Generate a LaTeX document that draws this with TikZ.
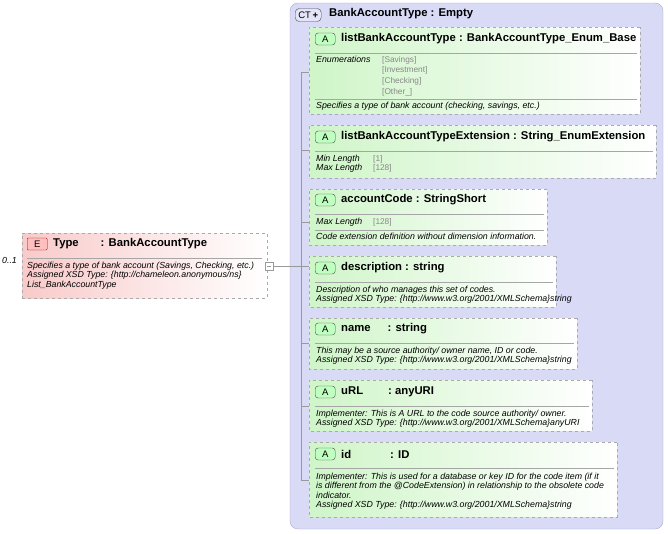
\documentclass[tikz,border=0pt]{standalone}
\usepackage{fontspec}
\setmainfont{Liberation Sans}
\usetikzlibrary{shapes.misc}
\definecolor{ctfill}{HTML}{D8DAF6}
\definecolor{ctline}{HTML}{A9A9C8}
\definecolor{bord}{HTML}{AAAAAA}
\definecolor{grn}{HTML}{CFF5C8}
\definecolor{pinkf}{HTML}{F9CACA}
\definecolor{gtext}{HTML}{888888}
\tikzset{
 abox/.style={chamfered rectangle, chamfered rectangle xsep=4pt, chamfered rectangle ysep=4pt, draw=bord, dashed, left color=grn, right color=white, anchor=north west, inner sep=0pt},
 ttl/.style={anchor=west, font=\fontsize{11.3}{12}\selectfont\bfseries, inner sep=0pt},
 sm/.style={anchor=north west, font=\fontsize{8.8}{9.4}\selectfont\itshape, inner sep=0pt, align=left},
 gr/.style={anchor=north west, font=\fontsize{8.3}{10.7}\selectfont, text=gtext, inner sep=0pt, align=left},
 abadge/.style={rounded corners=3pt, draw=black!70, fill=green!25, minimum width=20pt, minimum height=12pt, inner sep=0pt, font=\fontsize{9.5}{10}\selectfont, anchor=west},
 sep/.style={draw=gray!70},
 conn/.style={draw=gray!80},
}
\begin{document}
\begin{tikzpicture}[x=1pt,y=-1pt]
\useasboundingbox (0,0) rectangle (668,533);
% CT box
\draw[draw=ctline, fill=ctfill, rounded corners=8pt] (290,3) rectangle (663,529);
\node[rounded corners=4pt, draw=black!70, fill=ctfill!70, minimum width=26pt, minimum height=13pt, inner sep=0pt, font=\fontsize{9.5}{10}\selectfont, anchor=west] (ct) at (295,15) {CT\,\textbf{+}};
\node[ttl] (cttitle) at (329,14) {BankAccountType : Empty};
\coordinate (vtop) at (301,72);
\coordinate (vbot) at (301,480);
\draw[conn] (vtop) -- (vbot);
\newcommand\mkbox[6]{%
 \node[abox, minimum width={#4-#2}, minimum height={#5-#3}] (#1) at (#2,#3) {};
 \coordinate (#1t) at (#2,#6);
 \draw[conn] (#1t -| vtop) -- (#1t);
}
\newcommand\abadge[3]{\node[abadge] (#1b) at (315,#2) {A}; \node[ttl] (#1h) at (341,#2) {#3};}
% box 1
\mkbox{b1}{309}{27}{640}{114}{72}
\abadge{b1}{39}{listBankAccountType : BankAccountType\_Enum\_Base}
\draw[sep] (315,53) -- (637,53); \draw[sep] (315,99) -- (637,99);
\node[sm] (b1e) at (316,56) {Enumerations};
\node[gr] (b1v) at (382,56) {[Savings]\\{}[Investment]\\{}[Checking]\\{}[Other\_]};
\node[sm] (b1d) at (316,102) {Specifies a type of bank account (checking, savings, etc.)};
% box 2
\mkbox{b2}{309}{125}{656}{178}{150}
\abadge{b2}{137}{listBankAccountTypeExtension : String\_EnumExtension}
\draw[sep] (315,151) -- (653,151);
\node[sm] (b2e) at (316,155) {Min Length\\Max Length};
\node[gr, font=\fontsize{8.3}{9.4}\selectfont] (b2v) at (373,155) {[1]\\{}[128]};
% box 3
\mkbox{b3}{309}{189}{547}{245}{222}
\abadge{b3}{200}{accountCode : StringShort}
\draw[sep] (315,214) -- (544,214); \draw[sep] (315,230) -- (544,230);
\node[sm] (b3e) at (316,218) {Max Length};
\node[gr] (b3v) at (373,218) {[128]};
\node[sm] (b3d) at (316,233) {Code extension definition without dimension information.};
% box 4
\mkbox{b4}{309}{256}{556}{307}{266}
\abadge{b4}{268}{description : string}
\draw[sep] (315,282) -- (553,282);
\node[sm] (b4d) at (316,286) {Description of who manages this set of codes.\\Assigned XSD Type: \{http://www.w3.org/2001/XMLSchema\}string};
% box 5
\mkbox{b5}{309}{318}{577}{369}{343}
\abadge{b5}{329}{name\hspace{17pt}: string}
\draw[sep] (315,343) -- (574,343);
\node[sm] (b5d) at (316,347) {This may be a source authority/ owner name, ID or code.\\Assigned XSD Type: \{http://www.w3.org/2001/XMLSchema\}string};
% box 6
\mkbox{b6}{309}{380}{592}{431}{406}
\abadge{b6}{392}{uRL\hspace{25pt}: anyURI}
\draw[sep] (315,406) -- (589,406);
\node[sm] (b6d) at (316,410) {Implementer: This is A URL to the code source authority/ owner.\\Assigned XSD Type: \{http://www.w3.org/2001/XMLSchema\}anyURI};
% box 7
\mkbox{b7}{309}{442}{617}{517}{480}
\abadge{b7}{454}{id\hspace{39pt}: ID}
\draw[sep] (315,468) -- (614,468);
\node[sm] (b7d) at (316,473) {Implementer: This is used for a database or key ID for the code item (if it\\is different from the @CodeExtension) in relationship to the obsolete code\\indicator.\\Assigned XSD Type: \{http://www.w3.org/2001/XMLSchema\}string};
% element box
\node[draw=bord, dashed, left color=pinkf, right color=white, minimum width=245pt, minimum height=65pt, anchor=north west, inner sep=0pt] (el) at (22,233) {};
\node[rounded corners=1pt, draw=red!60!black, fill=red!25, minimum width=20pt, minimum height=12pt, inner sep=0pt, font=\fontsize{9.5}{10}\selectfont, anchor=west] (eb) at (27,244) {E};
\node[ttl] (eh) at (53,244) {Type\hspace{22pt}: BankAccountType};
\draw[sep] (27,258) -- (262,258);
\node[sm] (ed) at (27,262) {Specifies a type of bank account (Savings, Checking, etc.)\\Assigned XSD Type: \{http://chameleon.anonymous/ns\}\\List\_BankAccountType};
\node[sm, anchor=west] (card) at (2,260) {0..1};
\node[draw=gray!80, fill=white, minimum size=8pt, inner sep=0pt] (minus) at (269,266) {};
\draw[gray!80] ([xshift=-2pt]minus.center) -- ([xshift=2pt]minus.center);
\coordinate (vm) at (301,266);
\draw[conn] (minus.east) -- (vm);
\end{tikzpicture}
\end{document}
